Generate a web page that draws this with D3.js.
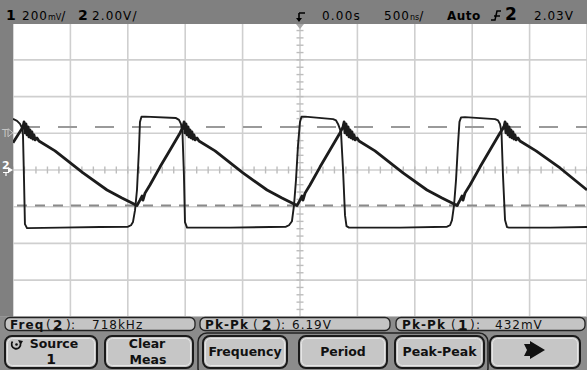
<!DOCTYPE html>
<html>
<head>
<meta charset="utf-8">
<script src="https://cdn.jsdelivr.net/npm/d3@7"></script>
<style>
  body { margin: 0; background: #fff; }
  svg { display: block; font-family: "DejaVu Sans", sans-serif; }
</style>
</head>
<body>
<div id="scope"></div>
<script>
// timebase 500 ns/div, ch1 200 mV/div, ch2 2.00 V/div
const timeRange = [-2.5, 2.5];          // µs across 10 divisions
const ch1PerDiv = 200;                  // mV
const ch2PerDiv = 2.0;                  // V

// channel 1 (triangle with ringing after each peak), [time µs, mV]
const ch1Trace = [
  [-2.500, 148], [-2.413, 235],
  [-2.404, 262], [-2.396, 202], [-2.387, 251], [-2.378, 191], [-2.369, 235], [-2.361, 180],
  [-2.352, 219], [-2.343, 175], [-2.335, 208], [-2.326, 169], [-2.317, 191], [-2.308, 164],
  [-2.291, 175], [-2.274, 158],
  [-2.134, 104], [-1.890, -16], [-1.681, -109], [-1.551, -153], [-1.420, -194],
  [-1.394, -164], [-1.376, -142], [-1.368, -164], [-1.350, -126], [-1.307, -82],
  [-1.220, 16], [-1.132, 109], [-1.045, 202], [-1.019, 235],
  [-1.010, 262], [-1.002, 202], [-0.993, 251], [-0.984, 191], [-0.975, 235], [-0.967, 180],
  [-0.958, 219], [-0.949, 175], [-0.941, 208], [-0.932, 169], [-0.923, 191], [-0.914, 164],
  [-0.897, 175], [-0.880, 158],
  [-0.740, 104], [-0.497, -16], [-0.287, -109], [-0.157, -153], [-0.026, -194],
  [0.000, -164], [0.017, -142], [0.026, -164], [0.044, -126], [0.087, -82],
  [0.174, 16], [0.261, 109], [0.348, 202], [0.375, 235],
  [0.384, 262], [0.392, 202], [0.401, 251], [0.410, 191], [0.419, 235], [0.427, 180],
  [0.436, 219], [0.445, 175], [0.453, 208], [0.462, 169], [0.471, 191], [0.480, 164],
  [0.497, 175], [0.514, 158],
  [0.653, 104], [0.897, -16], [1.106, -109], [1.237, -153], [1.368, -194],
  [1.394, -164], [1.411, -142], [1.420, -164], [1.437, -126], [1.481, -82],
  [1.568, 16], [1.655, 109], [1.742, 202], [1.777, 235],
  [1.786, 262], [1.794, 202], [1.803, 251], [1.812, 191], [1.821, 235], [1.829, 180],
  [1.838, 219], [1.847, 175], [1.855, 208], [1.864, 169], [1.873, 191], [1.882, 164],
  [1.899, 175], [1.916, 158],
  [2.056, 104], [2.265, 11], [2.500, -109]
];

// channel 2 (square), [time µs, V]
const ch2Trace = [
  [-2.500, 2.79], [-2.465, 2.68], [-2.439, 2.51], [-2.422, 2.30], [-2.413, 1.91], [-2.404, -0.55],
  [-2.396, -2.95], [-2.378, -3.17], [-2.091, -3.14], [-1.742, -3.11], [-1.498, -3.09],
  [-1.472, -3.01], [-1.455, -2.84], [-1.437, -2.19], [-1.420, -1.09], [-1.403, 1.09],
  [-1.394, 2.62], [-1.381, 2.90], [-1.350, 2.91], [-1.080, 2.83], [-1.054, 2.73],
  [-1.037, 2.51], [-1.024, 2.08], [-1.011, -0.27], [-1.002, -2.84], [-0.984, -3.14],
  [-0.610, -3.14], [-0.261, -3.11], [-0.122, -3.09], [-0.096, -3.01], [-0.070, -2.79],
  [-0.052, -1.91], [-0.035, -0.55], [-0.017, 1.37], [0.000, 2.62], [0.013, 2.90],
  [0.044, 2.91], [0.288, 2.77], [0.314, 2.70], [0.331, 2.51], [0.357, 2.08], [0.375, 0.00],
  [0.392, -2.46], [0.405, -3.06], [0.427, -3.14], [0.871, -3.14], [1.281, -3.09],
  [1.307, -3.01], [1.324, -2.73], [1.342, -1.91], [1.359, -0.55], [1.376, 1.37],
  [1.389, 2.62], [1.403, 2.87], [1.437, 2.88], [1.699, 2.77], [1.725, 2.70], [1.742, 2.51],
  [1.755, 2.08], [1.768, -0.27], [1.786, -2.73], [1.803, -3.11], [1.821, -3.14],
  [2.178, -3.14], [2.500, -3.11]
];

// Pk-Pk(1) cursor levels, mV
const cursorTop = 235;
const cursorBottom = -194;
const triggerLevel = 2.03; // V, ch2

const measLabels = ["Freq", "Pk-Pk", "Pk-Pk"];
const measSources = ["2", "2", "1"];
const measValues = ["718kHz", "6.19V", "432mV"];

const keyLabels = [["Source", "1"], ["Clear", "Meas"], ["Frequency"], ["Period"], ["Peak-Peak"], []];

// screen layout
const W = 587, H = 370;
const plot = { left: 13, right: 587, top: 23.2, bottom: 316.8 };
const measLayout = [
  { x0: 5, x1: 195, label: 10, open: 46, src: 53, close: 66, colon: 71, value: 92 },
  { x0: 200, x1: 390, label: 205, open: 253, src: 262, close: 276, colon: 281, value: 292 },
  { x0: 396, x1: 585, label: 402, open: 451, src: 458, close: 470, colon: 476, value: 495 }
];
const keyLayout = [[5, 97], [105, 193], [203, 287], [299, 387], [395, 484], [490, 580]];

const svg = d3.select("#scope").append("svg")
  .attr("width", W).attr("height", H);

const x = d3.scaleLinear().domain(timeRange).range([plot.left, plot.right]);
const y1 = d3.scaleLinear().domain([-4 * ch1PerDiv, 4 * ch1PerDiv]).range([plot.bottom, plot.top]);
const y2 = d3.scaleLinear().domain([-4 * ch2PerDiv, 4 * ch2PerDiv]).range([plot.bottom, plot.top]);

const gridColor = "#cfcfcf";

// grid
const grid = svg.append("g");
grid.selectAll("line.v").data(d3.range(-2.5, 2.51, 0.5)).enter().append("line")
  .attr("x1", d => x(d)).attr("x2", d => x(d))
  .attr("y1", plot.top).attr("y2", plot.bottom)
  .attr("stroke", gridColor).attr("stroke-width", 1.6);
grid.selectAll("line.h").data(d3.range(-8, 8.01, 2)).enter().append("line")
  .attr("y1", d => y2(d)).attr("y2", d => y2(d))
  .attr("x1", plot.left).attr("x2", plot.right)
  .attr("stroke", gridColor).attr("stroke-width", 1.6);

// minor ticks on the centre axes
const cx = x(0), cy = y2(0);
grid.selectAll("line.tx").data(d3.range(-2.5, 2.51, 0.1)).enter().append("line")
  .attr("x1", d => x(d)).attr("x2", d => x(d))
  .attr("y1", cy - 3.5).attr("y2", cy + 3.5)
  .attr("stroke", "#bdbdbd").attr("stroke-width", 1.4);
grid.selectAll("line.ty").data(d3.range(-8, 8.01, 0.4)).enter().append("line")
  .attr("y1", d => y2(d)).attr("y2", d => y2(d))
  .attr("x1", cx - 3.5).attr("x2", cx + 3.5)
  .attr("stroke", "#bdbdbd").attr("stroke-width", 1.4);

// cursor lines
svg.append("line")
  .attr("x1", plot.left).attr("x2", plot.right)
  .attr("y1", y1(cursorTop)).attr("y2", y1(cursorTop))
  .attr("stroke", "#9a9a9a").attr("stroke-width", 2)
  .attr("stroke-dasharray", "19,18").attr("stroke-dashoffset", 29);
svg.append("line")
  .attr("x1", plot.left).attr("x2", plot.right)
  .attr("y1", y1(cursorBottom)).attr("y2", y1(cursorBottom))
  .attr("stroke", "#8a8a8a").attr("stroke-width", 2)
  .attr("stroke-dasharray", "10,8").attr("stroke-dashoffset", 14);

// traces
const line1 = d3.line().x(d => x(d[0])).y(d => y1(d[1]));
const line2 = d3.line().x(d => x(d[0])).y(d => y2(d[1]));

svg.append("path").datum(ch2Trace)
  .attr("d", line2).attr("fill", "none")
  .attr("stroke", "#1c1c1c").attr("stroke-width", 1.9)
  .attr("stroke-linejoin", "round");
svg.append("path").datum(ch1Trace)
  .attr("d", line1).attr("fill", "none")
  .attr("stroke", "#1c1c1c").attr("stroke-width", 2.8)
  .attr("stroke-linejoin", "round");

// frame: top status bar, left strip, bottom softkey area
const barGray = "#808080";
svg.append("rect").attr("x", 0).attr("y", 0).attr("width", W).attr("height", 24).attr("fill", barGray);
svg.append("rect").attr("x", 0).attr("y", 0).attr("width", plot.left).attr("height", plot.bottom).attr("fill", barGray);
svg.append("rect").attr("x", 0).attr("y", plot.bottom).attr("width", W).attr("height", H - plot.bottom).attr("fill", "#8c8c8c");

// trigger position marker under the bar
svg.append("path")
  .attr("d", `M${cx - 4},24 L${cx + 4},24 L${cx},29 Z`)
  .attr("fill", "#a8a8a8");

// status bar text
const statusBar = svg.append("g").attr("fill", "#000");
function statusText(xp, parts) {
  const t = statusBar.append("text").attr("x", xp).attr("y", 19.5);
  parts.forEach(p => {
    t.append("tspan")
      .attr("font-size", p.size || 12)
      .attr("font-weight", p.bold ? "bold" : "normal")
      .attr("letter-spacing", p.ls == null ? 1 : p.ls)
      .text(p.s);
  });
}
statusText(6, [{ s: "1", bold: true, size: 14 }]);
statusText(22, [{ s: "200" }, { s: "mV", size: 8, ls: 0 }, { s: "/" }]);
statusText(78, [{ s: "2", bold: true, size: 14 }]);
statusText(92, [{ s: "2.00V/", ls: 1.1 }]);
statusText(322, [{ s: "0.00s", ls: 1.2 }]);
statusText(384, [{ s: "500" }, { s: "ns", size: 8, ls: 0 }, { s: "/" }]);
statusText(447, [{ s: "Auto", bold: true, ls: 0.5 }]);
statusText(505, [{ s: "2", bold: true, size: 17 }]);
statusText(534, [{ s: "2.03V", ls: 1 }]);

// trigger arrow in the bar
svg.append("path")
  .attr("d", `M${cx - 1},13 L${cx + 5},13 M${cx - 1},13 L${cx - 1},21`)
  .attr("stroke", "#000").attr("stroke-width", 1.6).attr("fill", "none");
svg.append("path")
  .attr("d", `M${cx - 4},18 L${cx + 2},18 L${cx - 1},22 Z`).attr("fill", "#000");
// rising edge symbol
svg.append("path")
  .attr("d", "M491,20 L495,20 L497,11 L501,11 M494,16 L500,16")
  .attr("stroke", "#000").attr("stroke-width", 1.5).attr("fill", "none");

// left strip markers
const ty = y2(triggerLevel);
svg.append("text").attr("x", 2).attr("y", ty + 4)
  .attr("font-size", 10).attr("fill", "#c4c4c4").text("T");
svg.append("path")
  .attr("d", `M8,${ty - 4} L13,${ty} L8,${ty + 4} Z`)
  .attr("fill", "none").attr("stroke", "#c4c4c4").attr("stroke-width", 1);
svg.append("text").attr("x", 2).attr("y", cy - 1)
  .attr("font-size", 11).attr("font-weight", "bold").attr("fill", "#fff").text("2");
svg.append("path")
  .attr("d", `M8,${cy - 3} L13,${cy} L8,${cy + 3} Z`).attr("fill", "#fff");
svg.append("path")
  .attr("d", `M3,${cy + 2.5} L9,${cy + 2.5} M6,${cy + 2.5} L6,${cy + 6}`)
  .attr("stroke", "#fff").attr("stroke-width", 1.2);

// measurement row
const measFont = 12, measBase = 328.5;
measLabels.forEach((label, i) => {
  const L = measLayout[i];
  const g = svg.append("g").attr("fill", "#111");
  g.append("rect")
    .attr("x", L.x0).attr("y", 317.5)
    .attr("width", L.x1 - L.x0).attr("height", 13)
    .attr("rx", 5).attr("fill", "#c4c4c4")
    .attr("stroke", "#222").attr("stroke-width", 1.3);
  g.append("text").attr("x", L.label).attr("y", measBase)
    .attr("font-size", measFont).attr("font-weight", "bold").attr("letter-spacing", 1.1).text(label);
  g.append("text").attr("x", L.open).attr("y", measBase).attr("font-size", measFont).text("(");
  g.append("text").attr("x", L.src).attr("y", measBase + 1)
    .attr("font-size", 13.5).attr("font-weight", "bold").text(measSources[i]);
  g.append("line")
    .attr("x1", L.src).attr("x2", L.src + 9)
    .attr("y1", measBase + 1.5).attr("y2", measBase + 1.5)
    .attr("stroke", "#111").attr("stroke-width", 1.2);
  g.append("text").attr("x", L.close).attr("y", measBase).attr("font-size", measFont).text(")");
  g.append("text").attr("x", L.colon).attr("y", measBase).attr("font-size", measFont).text(":");
  g.append("text").attr("x", L.value).attr("y", measBase)
    .attr("font-size", measFont).attr("letter-spacing", 1).text(measValues[i]);
});

// group bracket around the measurement keys
svg.append("rect")
  .attr("x", 198).attr("y", 333).attr("width", 290).attr("height", 44)
  .attr("rx", 9).attr("fill", "none").attr("stroke", "#222").attr("stroke-width", 1.5);

// softkeys
keyLabels.forEach((lines, i) => {
  const [x0, x1] = keyLayout[i];
  const mid = (x0 + x1) / 2;
  const g = svg.append("g").attr("fill", "#111").attr("font-weight", "bold").attr("text-anchor", "middle");
  g.append("rect")
    .attr("x", x0).attr("y", 336)
    .attr("width", x1 - x0).attr("height", 32)
    .attr("rx", 7).attr("fill", "#c6c6c6")
    .attr("stroke", "#1a1a1a").attr("stroke-width", 2);
  g.append("rect")
    .attr("x", x0 + 2.5).attr("y", 338.5)
    .attr("width", x1 - x0 - 5).attr("height", 27)
    .attr("rx", 5).attr("fill", "none")
    .attr("stroke", "#e6e6e6").attr("stroke-width", 1);
  if (lines.length === 1) {
    g.append("text").attr("x", mid).attr("y", 356)
      .attr("font-size", 12.5).text(lines[0]);
  } else if (lines.length === 2) {
    const isSource = lines[0] === "Source";
    g.append("text").attr("x", mid + (isSource ? 3 : -2)).attr("y", 348)
      .attr("font-size", 12.5).text(lines[0]);
    g.append("text").attr("x", mid + (isSource ? 0 : -1)).attr("y", 364)
      .attr("font-size", isSource ? 14 : 12.5).text(lines[1]);
  }
});

// rotate knob icon on the Source key
svg.append("path")
  .attr("d", "M12.5,341.5 A4.5,4.5 0 1 0 20.5,343.5")
  .attr("fill", "none").attr("stroke", "#111").attr("stroke-width", 1.8);
svg.append("path").attr("d", "M18,340 L23,341 L20.5,345 Z").attr("fill", "#111");
svg.append("circle").attr("cx", 16.5).attr("cy", 344.5).attr("r", 1.3).attr("fill", "#111");

// next-page arrow
svg.append("path")
  .attr("d", "M524,344 L530,344 L530,341 L545,350 L530,359 L530,356 L524,356 L527,350 Z")
  .attr("fill", "#111");
</script>
</body>
</html>
